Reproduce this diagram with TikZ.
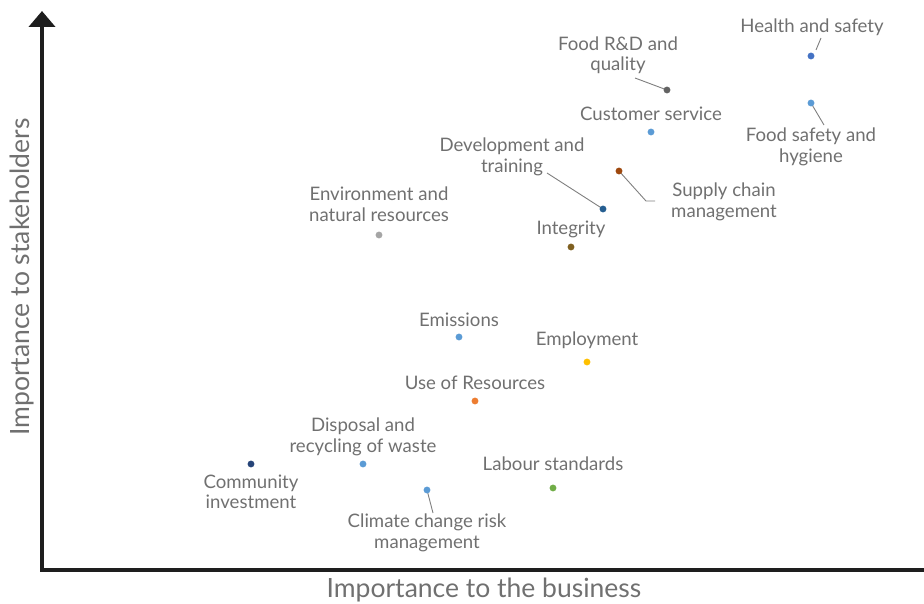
\documentclass[tikz,border=0pt]{standalone}
\usepackage{fontspec}
\setmainfont{Lato}
\usepackage{tikz}
\usetikzlibrary{calc, arrows.meta, positioning}

\definecolor{txtgray}{HTML}{707070}
\definecolor{leadgray}{HTML}{7F7F7F}
\definecolor{axisblack}{HTML}{1E1E1E}
\definecolor{cBlue}{HTML}{4472C4}
\definecolor{cLight}{HTML}{5B9BD5}
\definecolor{cDark}{HTML}{636363}
\definecolor{cRust}{HTML}{9E480E}
\definecolor{cNavy}{HTML}{255E91}
\definecolor{cSilver}{HTML}{A5A5A5}
\definecolor{cOlive}{HTML}{7F6020}
\definecolor{cGold}{HTML}{FFC000}
\definecolor{cOrange}{HTML}{ED7D31}
\definecolor{cDeep}{HTML}{264478}
\definecolor{cGreen}{HTML}{70AD47}

\tikzset{
  lbl/.style={text=txtgray, align=center, inner sep=0pt,
    font=\fontsize{18.6}{20.5}\selectfont},
  axislbl/.style={text=txtgray, inner sep=0pt,
    font=\fontsize{26.5}{30}\selectfont},
  leader/.style={draw=leadgray, line width=0.9pt},
  axisline/.style={draw=axisblack, line width=4pt,
    -{Triangle[width=26pt, length=16pt]}},
}

\begin{document}
\begin{tikzpicture}[x=1pt, y=-1pt]
                  \useasboundingbox (0,0) rectangle (924,604);
                  % axes
                  \coordinate (O) at (42, 570);
                  \coordinate (Ytop) at (42, 11);
                  \coordinate (Xend) at (940, 570);
                  \draw[axisline] (O)--(Ytop);
                  \draw[axisline] ($(O)+(-2,0)$)--(Xend);
                  \node[axislbl] (xlab) at (484, 590) {Importance to the business};
                  \node[axislbl, rotate=90] (ylab) at (22, 277) {Importance to stakeholders};

                  % topics
                  \coordinate (HS) at (811, 56);
                  \coordinate (RD) at (667, 90);
                  \coordinate (FS) at (811, 103);
                  \coordinate (CS) at (651, 132);
                  \coordinate (SC) at (619, 171);
                  \coordinate (DT) at (603, 209);
                  \coordinate (EN) at (379, 235);
                  \coordinate (IN) at (571, 247);
                  \coordinate (EM) at (459, 337);
                  \coordinate (EP) at (587, 362);
                  \coordinate (UR) at (475, 401);
                  \coordinate (DR) at (363, 464);
                  \coordinate (CI) at (251, 464);
                  \coordinate (CC) at (427, 490);
                  \coordinate (LS) at (553, 488);

                  % leader lines
                  \coordinate (HSa) at (821, 38);
                  \coordinate (HSb) at (816, 50);
                  \coordinate (RDa) at (635, 78);
                  \coordinate (FSa) at (824, 125);
                  \coordinate (SCa) at (646, 201);
                  \coordinate (SCb) at (655, 201);
                  \coordinate (DTa) at (547, 173);
                  \coordinate (CCa) at (433, 513);
                  \draw[leader] (HSb)--(HSa);
                  \draw[leader] (RD)--(RDa);
                  \draw[leader] (FS)--(FSa);
                  \draw[leader] (SC)--(SCa)--(SCb);
                  \draw[leader] (DT)--(DTa);
                  \draw[leader] (CC)--(CCa);

                  \draw[cBlue, fill=cBlue] (HS) circle (3.2);
                  \draw[cDark, fill=cDark] (RD) circle (3.2);
                  \draw[cLight, fill=cLight] (FS) circle (3.2);
                  \draw[cLight, fill=cLight] (CS) circle (3.2);
                  \draw[cRust, fill=cRust] (SC) circle (3.2);
                  \draw[cNavy, fill=cNavy] (DT) circle (3.2);
                  \draw[cSilver, fill=cSilver] (EN) circle (3.2);
                  \draw[cOlive, fill=cOlive] (IN) circle (3.2);
                  \draw[cLight, fill=cLight] (EM) circle (3.2);
                  \draw[cGold, fill=cGold] (EP) circle (3.2);
                  \draw[cOrange, fill=cOrange] (UR) circle (3.2);
                  \draw[cLight, fill=cLight] (DR) circle (3.2);
                  \draw[cDeep, fill=cDeep] (CI) circle (3.2);
                  \draw[cLight, fill=cLight] (CC) circle (3.2);
                  \draw[cGreen, fill=cGreen] (LS) circle (3.2);

                  % labels
                  \node[lbl] (HSl) at (812, 27) {Health and safety};
                  \node[lbl] (RDl) at (618, 55) {Food R\&D and\\quality};
                  \node[lbl] (FSl) at (811, 147) {Food safety and\\hygiene};
                  \node[lbl] (CSl) at (651, 114) {Customer service};
                  \node[lbl] (SCl) at (724, 202) {Supply chain\\management};
                  \node[lbl] (DTl) at (512, 157) {Development and\\training};
                  \node[lbl] (ENl) at (379, 204) {Environment and\\natural resources};
                  \node[lbl] (INl) at (571, 229) {Integrity};
                  \node[lbl] (EMl) at (459, 320) {Emissions};
                  \node[lbl] (EPl) at (587, 340) {Employment};
                  \node[lbl] (URl) at (475, 383) {Use of Resources};
                  \node[lbl] (DRl) at (363, 437) {Disposal and\\recycling of waste};
                  \node[lbl] (CIl) at (251, 492) {Community\\investment};
                  \node[lbl] (LSl) at (553, 464) {Labour standards};
                  \node[lbl] (CCl) at (427, 533) {Climate change risk\\management};
               \end{tikzpicture}
\end{document}
